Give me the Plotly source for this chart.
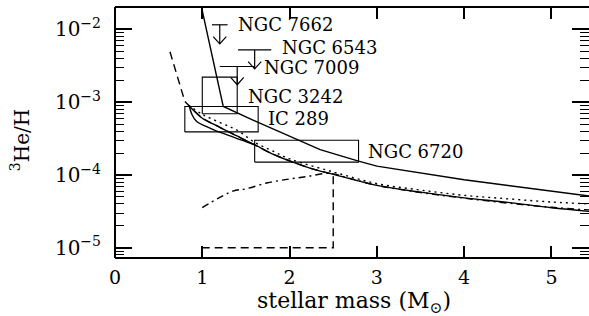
import numpy as np
import plotly.graph_objects as go

# ---------------- data ----------------
# upper solid model curve
upper_mass = [0.975, 1.24, 1.64, 2.0, 2.35, 2.79, 3.0, 4.0, 5.45]
upper_val = [2.45e-2, 8.7e-4, 5.25e-4, 3.4e-4, 2.22e-4, 1.55e-4, 1.32e-4, 8.6e-5, 5.1e-5]

# lower solid model curve
lower_mass = [0.84, 1.0, 1.17, 1.32, 1.6, 1.8, 2.03, 2.25, 2.5, 3.0, 3.5, 4.0, 4.5, 5.0, 5.45]
lower_val = [9.1e-4, 6.0e-4, 4.7e-4, 3.8e-4, 2.6e-4, 1.95e-4, 1.51e-4, 1.22e-4, 1.02e-4,
             7.2e-5, 5.8e-5, 4.85e-5, 4.2e-5, 3.55e-5, 3.15e-5]

# bowed solid branch at low mass
bow_mass = [0.85, 0.88, 0.935, 1.05, 1.165, 1.3, 1.45, 1.6]
bow_val = [8.9e-4, 6.8e-4, 5.4e-4, 4.6e-4, 4.0e-4, 3.5e-4, 3.0e-4, 2.6e-4]

# dotted model curve
dot_mass = [0.84, 1.0, 1.2, 1.4, 1.6, 1.8, 2.0, 2.5, 3.0, 3.5, 4.0, 4.5, 5.0, 5.45]
dot_val = [9.1e-4, 6.8e-4, 5.25e-4, 4.1e-4, 2.8e-4, 2.15e-4, 1.66e-4, 1.1e-4, 7.6e-5,
           6.2e-5, 5.25e-5, 4.7e-5, 4.25e-5, 4.0e-5]

# dash-dot model curve
dd_mass = [1.0, 1.35, 1.5, 1.75, 2.0, 2.2, 2.45, 2.7, 3.0, 3.5, 4.0, 4.5, 5.0, 5.45]
dd_val = [3.55e-5, 6.0e-5, 6.45e-5, 7.8e-5, 8.8e-5, 9.5e-5, 1.05e-4, 8.9e-5, 7.2e-5,
          5.75e-5, 4.8e-5, 4.1e-5, 3.6e-5, 3.3e-5]

# dashed model curve
dash_mass = [0.63, 0.69, 0.8, 0.84, 1.0, 1.17, 1.32, 1.6, 1.8, 2.03, 2.25, 2.5, 2.5, 1.0]
dash_val = [4.9e-3, 2.75e-3, 1.02e-3, 9.1e-4, 6.0e-4, 4.7e-4, 3.8e-4, 2.6e-4, 1.95e-4,
            1.51e-4, 1.22e-4, 1.02e-4, 1.0e-5, 1.0e-5]

# observational boxes
box_names = ["NGC 3242", "IC 289", "NGC 6720"]
box_m_lo = [1.0, 0.8, 1.6]
box_m_hi = [1.4, 1.64, 2.79]
box_v_lo = [6.9e-4, 3.9e-4, 1.5e-4]
box_v_hi = [2.2e-3, 8.7e-4, 3.0e-4]

# upper limits
ul_names = ["NGC 7662", "NGC 6543", "NGC 7009"]
ul_mass = [1.2, 1.6, 1.4]
ul_half = [0.09, 0.19, 0.2]
ul_val = [1.15e-2, 5.2e-3, 3.08e-3]
ul_tip = [6.3e-3, 2.86e-3, 1.73e-3]

# labels
label_text = ["NGC 7662", "NGC 6543", "NGC 7009", "NGC 3242", "IC 289", "NGC 6720"]
label_mass = [1.40, 1.90, 1.69, 1.51, 1.745, 2.89]
label_val = [1.15e-2, 5.6e-3, 2.95e-3, 1.19e-3, 5.9e-4, 2.1e-4]

x_ticks = [0, 1, 2, 3, 4, 5]
y_ticks = [1e-5, 1e-4, 1e-3, 1e-2]
y_tick_text = ["10<sup>−5</sup>", "10<sup>−4</sup>", "10<sup>−3</sup>", "10<sup>−2</sup>"]

# ---------------- figure ----------------
FONT = "DejaVu Serif"
LW = 1.4
fig = go.Figure()

def line(x, y, dash="solid", shape="linear", width=LW):
    fig.add_trace(go.Scatter(x=x, y=y, mode="lines", showlegend=False, hoverinfo="skip",
                             line=dict(color="black", width=width, dash=dash, shape=shape)))

line(upper_mass, upper_val)
line(lower_mass, lower_val, shape="spline")
line(bow_mass, bow_val, shape="spline")
line(dot_mass, dot_val, dash="2px,4px", shape="spline")
line(dd_mass, dd_val, dash="7px,4px,2px,4px", shape="spline")
line(dash_mass, dash_val, dash="8px,5px")

for lo, hi, vlo, vhi in zip(box_m_lo, box_m_hi, box_v_lo, box_v_hi):
    line([lo, hi, hi, lo, lo], [vlo, vlo, vhi, vhi, vlo], width=1.1)

HEAD_DX = 0.075
HEAD_DY = 10 ** 0.1
for m, h, v, t in zip(ul_mass, ul_half, ul_val, ul_tip):
    line([m - h, m + h], [v, v], width=1.2)
    line([m, m], [v, t], width=1.2)
    line([m - HEAD_DX, m, m + HEAD_DX], [t * HEAD_DY, t, t * HEAD_DY], width=1.2)

for txt, m, v in zip(label_text, label_mass, label_val):
    fig.add_annotation(x=m, y=np.log10(v), text=txt, showarrow=False, xanchor="left",
                       yanchor="middle", borderpad=0,
                       font=dict(family=FONT, size=18, color="black"))

minor_vals = [k * 10.0 ** e for e in range(-6, -1) for k in range(2, 10)]

fig.update_xaxes(range=[0, 5.43], showline=False, mirror="ticks", ticks="inside", ticklen=12,
                 tickwidth=1.5, tickcolor="black", tickvals=x_ticks, showgrid=False,
                 zeroline=False, tickfont=dict(family=FONT, size=19, color="black"),
                 ticklabelstandoff=6)
fig.update_yaxes(type="log", range=[-5.14, -1.695], showline=False, mirror="ticks",
                 ticks="inside", ticklen=17, tickwidth=1.5, tickcolor="black",
                 tickvals=y_ticks, ticktext=y_tick_text, showgrid=False, zeroline=False,
                 tickfont=dict(family=FONT, size=20, color="black"), ticklabelstandoff=13,
                 minor=dict(tickvals=minor_vals, ticks="inside", ticklen=9, tickwidth=1.2,
                            tickcolor="black", showgrid=False))

for x0, y0, x1, y1 in [(0, 0, 0, 1), (0, 0, 1, 0), (0, 1, 1, 1)]:
    fig.add_shape(type="line", xref="paper", yref="paper", x0=x0, y0=y0, x1=x1, y1=y1,
                  line=dict(color="black", width=2))

fig.add_annotation(xref="paper", yref="paper", x=0.504, y=-0.179, showarrow=False,
                   xanchor="center", yanchor="middle",
                   text="stellar mass (M<sub>⊙</sub>)",
                   font=dict(family=FONT, size=22, color="black"))
fig.add_annotation(xref="paper", yref="paper", x=-0.2, y=0.47, showarrow=False, textangle=-90,
                   xanchor="center", yanchor="middle",
                   text="<sup>3</sup>He/H", font=dict(family=FONT, size=20, color="black"))

fig.update_layout(width=589, height=316, margin=dict(l=115, r=0, t=7, b=58),
                  paper_bgcolor="white", plot_bgcolor="white")
fig.write_html("out.html", config={"displayModeBar": False},
               post_script="document.body.style.margin='0';document.body.style.overflow='hidden';")
